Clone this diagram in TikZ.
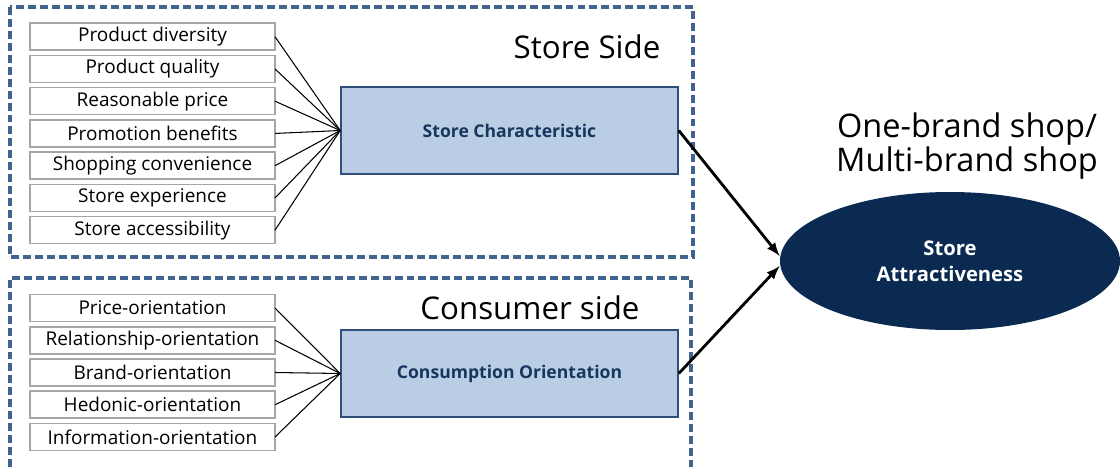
\documentclass[tikz,border=0pt]{standalone}
\usepackage{fontspec}
\setmainfont{Open Sans}[BoldFont={* Bold}]
\usetikzlibrary{positioning}
\usetikzlibrary{shapes.geometric}

\definecolor{dashblue}{HTML}{41648F}
\definecolor{boxfill}{HTML}{B9CDE5}
\definecolor{boxdraw}{HTML}{2F4F7A}
\definecolor{textnavy}{HTML}{17365D}
\definecolor{itemgray}{HTML}{A6A6A6}
\definecolor{navy}{HTML}{0A2A52}

\begin{document}
\begin{tikzpicture}[
        x = 0.2mm, y = -0.2mm,
        item/.style = {
            draw = itemgray,
            line width = 0.9pt,
            minimum width = 4.9cm,
            minimum height = 0.54cm,
            inner sep = 0pt,
            outer sep = 0pt,
            font = \fontsize{10.8}{12}\selectfont
        },
        factor/.style = {
            draw = boxdraw,
            fill = boxfill,
            line width = 0.9pt,
            minimum width = 6.74cm,
            minimum height = 1.74cm,
            inner sep = 0pt,
            text = textnavy,
            font = \fontsize{10}{12}\selectfont\bfseries
        },
        side/.style = {
            draw = dashblue,
            dash pattern = on 4.5pt off 2.3pt,
            line width = 1.8pt
        },
        node distance = {1.05mm}
        ]
        \useasboundingbox (0,0) rectangle (1120,467);
% 
        \draw[side] (10,7) rectangle (693,257);
        \draw[side] (10,467) -- (10,278) -- (691,278) -- (691,467);
% 
        \node[item] (pd) at (152.5,36.7) {Product diversity};
        \node[item, below=of pd] (pq) {Product quality};
        \node[item, below=of pq] (rp) {Reasonable price};
        \node[item, below=of rp] (pb) {Promotion benefits};
        \node[item, below=of pb] (sconv) {Shopping convenience};
        \node[item, below=of sconv] (sexp) {Store experience};
        \node[item, below=of sexp] (sacc) {Store accessibility};
% 
        \node[factor] (sc) at (509.5,130.5) {Store Characteristic};
        \node[font=\fontsize{17.8}{20}\selectfont] (sside) at (587,47) {Store Side};
% 
% 
        \node[item] (po) at (152.5,308) {Price-orientation};
        \node[item, below=of po] (ro) {Relationship-orientation};
        \node[item, below=of ro] (bo) {Brand-orientation};
        \node[item, below=of bo] (ho) {Hedonic-orientation};
        \node[item, below=of ho] (io) {Information-orientation};
% 
        \node[factor] (co) at (509.5,373.5) {Consumption Orientation};
        \node[font=\fontsize{17.8}{20}\selectfont] (cside) at (530,308) {Consumer side};
% 
% 
        \node[ellipse, fill=navy, minimum width=6.8cm, minimum height=2.76cm, text=white,
              align=center, font=\fontsize{11.5}{14.8}\selectfont\bfseries] (sa) at (950,261) {Store\\Attractiveness};
        \node[align=center, font=\fontsize{18.5}{18.2}\selectfont] (shop) at (967,146) {One-brand shop/\\Multi-brand shop};
% 
        \coordinate (in1) at ([yshift=0.1cm]sa.west);
        \coordinate (in2) at ([yshift=-0.1cm]sa.west);
% 
        \draw[line width = 0.6pt] (pd.east) -- (sc.west);
        \draw[line width = 0.6pt] (pq.east) -- (sc.west);
        \draw[line width = 0.6pt] (rp.east) -- (sc.west);
        \draw[line width = 0.6pt] (pb.east) -- (sc.west);
        \draw[line width = 0.6pt] (sconv.east) -- (sc.west);
        \draw[line width = 0.6pt] (sexp.east) -- (sc.west);
        \draw[line width = 0.6pt] (sacc.east) -- (sc.west);
% 
        \draw[line width = 0.6pt] (po.east) -- (co.west);
        \draw[line width = 0.6pt] (ro.east) -- (co.west);
        \draw[line width = 0.6pt] (bo.east) -- (co.west);
        \draw[line width = 0.6pt] (ho.east) -- (co.west);
        \draw[line width = 0.6pt] (io.east) -- (co.west);
% 
        \draw[->, >=latex, line width = 1.6pt] (sc.east) -- (in1);
        \draw[->, >=latex, line width = 1.6pt] (co.east) -- (in2);
% 
    \end{tikzpicture}
\end{document}
